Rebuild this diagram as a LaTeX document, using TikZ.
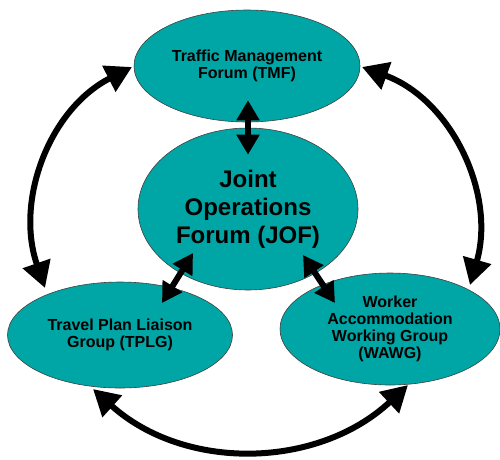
\documentclass[tikz,border=0pt]{standalone}
\usepackage{fontspec}
\setmainfont{Liberation Sans}
\usetikzlibrary{shapes.geometric,arrows.meta}
\definecolor{forumteal}{RGB}{0,165,165}
\tikzset{
  forum/.style={ellipse, draw=black!75, line width=0.6pt, fill=forumteal, inner sep=0pt,
    align=center, font=\bfseries\fontsize{16}{17}\selectfont},
  link/.style={line width=6pt, {Triangle[length=20pt,width=22pt]}-{Triangle[length=20pt,width=22pt]}},
  ring/.style={line width=6pt, {Triangle[length=26pt,width=28pt]}-{Triangle[length=26pt,width=28pt]}}
}
\begin{document}
\begin{tikzpicture}[x=1pt,y=1pt,line join=round]
  \useasboundingbox (0,0) rectangle (500,-459);
  % the four forums
  \node[forum, minimum width=226pt, minimum height=112pt] (tmf) at (247,-66) {Traffic Management\\Forum (TMF)};
  \node[forum, minimum width=220pt, minimum height=162pt, font=\bfseries\fontsize{24}{28}\selectfont] (jof) at (248,-209) {Joint\\Operations\\Forum (JOF)};
  \node[forum, minimum width=225pt, minimum height=106pt] (tplg) at (120,-335) {Travel Plan Liaison\\Group (TPLG)};
  \node[forum, minimum width=220pt, minimum height=112pt] (wawg) at (390,-329) {Worker\\Accommodation\\Working Group\\(WAWG)};
  % arrow ends
  \coordinate (tmfJ) at ([shift={(1,22)}]tmf.south);
  \coordinate (jofT) at ([shift={(0,-27)}]jof.north);
  \coordinate (jofL) at ([shift={(-55,-44)}]jof.center);
  \coordinate (jofR) at ([shift={(55,-46)}]jof.center);
  \coordinate (tplgJ) at ([shift={(42,32)}]tplg.center);
  \coordinate (wawgJ) at ([shift={(-55,26)}]wawg.center);
  \coordinate (tmfL) at ([shift={(-115,-1)}]tmf.center);
  \coordinate (tmfR) at ([shift={(115,-1)}]tmf.center);
  \coordinate (tplgL) at ([shift={(-75,47)}]tplg.center);
  \coordinate (tplgB) at ([shift={(-27,-54)}]tplg.center);
  \coordinate (wawgR) at ([shift={(80,44)}]wawg.center);
  \coordinate (wawgB) at ([shift={(18,-56)}]wawg.center);
  % links to the joint forum
  \draw[link] (tmfJ) -- (jofT);
  \draw[link] (tplgJ) -- (jofL);
  \draw[link] (jofR) -- (wawgJ);
  % outer ring
  \draw[ring] (tplgL) to[out=109,in=207] (tmfL);
  \draw[ring] (wawgR) to[out=74,in=-20] (tmfR);
  \draw[ring] (tplgB) to[out=-42,in=-137] (wawgB);
\end{tikzpicture}
\end{document}
